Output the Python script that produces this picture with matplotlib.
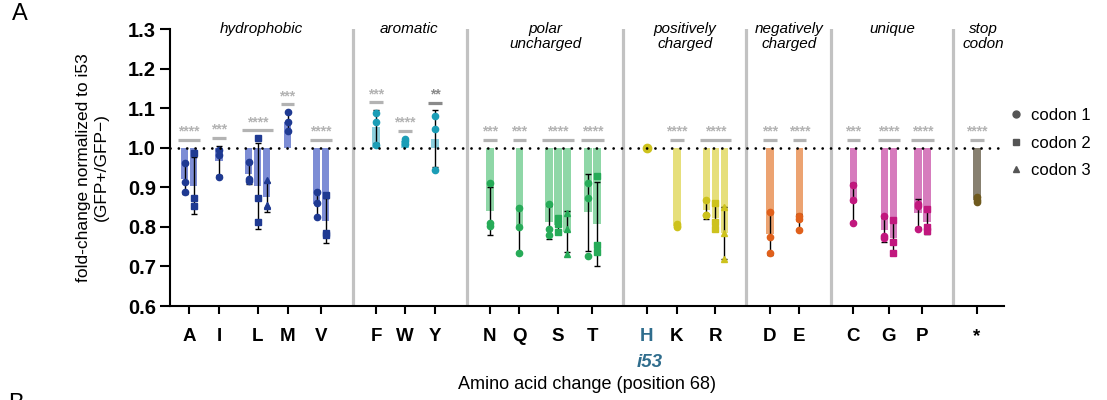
import numpy as np
import matplotlib
matplotlib.use("Agg")
import matplotlib.pyplot as plt
from matplotlib.lines import Line2D

plt.rcParams['font.family'] = ['Liberation Sans', 'DejaVu Sans']

# amino acids (position 68) and replicate values per codon
aa = ['A', 'I', 'L', 'M', 'V', 'F', 'W', 'Y', 'N', 'Q', 'S', 'T',
      'H', 'K', 'R', 'D', 'E', 'C', 'G', 'P', '*']
aa_class = ['hyd'] * 5 + ['aro'] * 3 + ['pol'] * 4 + ['pos'] * 3 + ['neg'] * 2 + ['uni'] * 3 + ['stop']

codon1 = [
    [0.961, 0.913, 0.887], [0.995, 0.982, 0.926], [0.964, 0.922, 0.915],
    [1.090, 1.064, 1.041], [0.888, 0.860, 0.824],
    [1.088, 1.064, 1.008], [1.022, 1.016, 1.010], [1.079, 1.047, 0.943],
    [0.911, 0.810, 0.801], [0.848, 0.799, 0.734], [0.859, 0.795, 0.780],
    [0.911, 0.873, 0.726],
    [1.000], [0.806, 0.803, 0.800], [0.869, 0.830, 0.830],
    [0.838, 0.775, 0.734], [0.827, 0.821, 0.792],
    [0.907, 0.867, 0.810], [0.827, 0.778, 0.772], [0.859, 0.852, 0.795],
    [0.875, 0.868, 0.862],
]
codon2 = [
    [0.987, 0.873, 0.852], None, [1.024, 0.873, 0.812], None, [0.881, 0.785, 0.780],
    None, None, None,
    None, None, [0.822, 0.806, 0.786], [0.928, 0.755, 0.736],
    None, None, [0.860, 0.812, 0.795],
    None, None,
    None, [0.818, 0.761, 0.734], [0.845, 0.800, 0.790],
    None,
]
codon3 = [
    None, None, [0.919, 0.852, 0.854], None, None,
    None, None, None,
    None, None, [0.835, 0.795, 0.732], None,
    None, None, [0.850, 0.785, 0.720],
    None, None,
    None, None, None,
    None,
]
stars = ['****', '***', '****', '***', '****', '***', '****', '**',
         '***', '***', '****', '****', '', '****', '****', '***', '****',
         '***', '****', '****', '****']

classes = ['hyd', 'aro', 'pol', 'pos', 'neg', 'uni', 'stop']
class_names = ['hydrophobic', 'aromatic', 'polar\nuncharged', 'positively\ncharged',
               'negatively\ncharged', 'unique', 'stop\ncodon']

# layout
xpos = [189, 219, 257.5, 287.5, 321, 376, 405, 435, 490, 519.5, 558, 592.5,
        647, 677, 715.5, 770, 799.5, 853.5, 889, 922.5, 977]
dividers = [352.5, 466.5, 623.5, 746.5, 831, 953]
class_x = [261, 409, 545, 685, 789, 892, 983]
bar_col = {'hyd': '#7d8dd5', 'aro': '#8ccfdd', 'pol': '#8fd7a7', 'pos': '#e6df7b',
           'neg': '#eca371', 'uni': '#d67cbd', 'stop': '#878070'}
pt_col = {'hyd': '#1f3a92', 'aro': '#1b9db6', 'pol': '#27ab58', 'pos': '#cdc21d',
          'neg': '#e0601b', 'uni': '#c1187e', 'stop': '#6f5a1e'}
markers = ['o', 's', '^']

fig = plt.figure(figsize=(11.07, 4.0), dpi=100)
ax = fig.add_axes([170 / 1107, 94 / 400, 834 / 1107, 277 / 400])
ax.set_xlim(170, 1004)
ax.set_ylim(0.6, 1.3)

step = 9.0
width = 7.3
for i, a in enumerate(aa):
    sets = [c[i] for c in (codon1, codon2, codon3)]
    present = [(k, s) for k, s in enumerate(sets) if s is not None]
    n = len(present)
    offs = (np.arange(n) - (n - 1) / 2) * step
    cls = aa_class[i]
    top = 1.0
    for (k, s), o in zip(present, offs):
        x = xpos[i] + o
        vals = np.array(s)
        if a == 'H':
            ax.plot([x], vals, marker='o', ms=6, color=pt_col[cls], ls='none', zorder=5)
            continue
        m = vals.mean()
        sd = vals.std(ddof=1)
        ax.bar(x, m - 1.0, bottom=1.0, width=width, color=bar_col[cls], zorder=2)
        ax.errorbar(x, m, yerr=sd, color='black', lw=1, capsize=2, capthick=1, zorder=4)
        ax.plot(np.full(len(vals), x), vals, marker=markers[k], ms=4.5, ls='none',
                color=pt_col[cls], zorder=5)
        top = max(top, m + sd, vals.max())
    if stars[i]:
        y = top + 0.02
        x0 = xpos[i] + offs[0] - width / 2 - 3
        x1 = xpos[i] + offs[-1] + width / 2 + 3
        sc = '#8a8a8a' if stars[i] == '**' else '#b3b3b3'
        ax.plot([x0, x1], [y, y], color=sc, lw=2.3, solid_capstyle='butt', zorder=3)
        ax.text(xpos[i], y + 0.003, stars[i], ha='center', va='bottom', fontsize=10,
                fontweight='bold', color=sc)

ax.axhline(1.0, color='black', lw=2, ls=(0, (0.01, 3.0)), dash_capstyle='round', zorder=6)

for d in dividers:
    ax.axvline(d, color='#c2c2c2', lw=2.3, zorder=1)

for cx, name in zip(class_x, class_names):
    ax.text(cx, 1.318, name, ha='center', va='top', fontsize=11, style='italic',
            linespacing=1.1)

ax.spines['top'].set_visible(False)
ax.spines['right'].set_visible(False)
ax.spines['left'].set_linewidth(1.5)
ax.spines['bottom'].set_linewidth(1.5)
ax.set_yticks(np.arange(0.6, 1.31, 0.1))
ax.set_yticklabels(['%.1f' % v for v in np.arange(0.6, 1.31, 0.1)], fontsize=14.5,
                   fontweight='bold')
ax.tick_params(axis='y', length=7, width=1.5, pad=3)
ax.set_xticks(xpos)
ax.set_xticklabels(aa, fontsize=13.5, fontweight='bold')
ax.tick_params(axis='x', length=6, width=1.5, pad=10)
for lbl in ax.get_xticklabels():
    if lbl.get_text() == 'H':
        lbl.set_color('#2f6d8d')

ax.text(xpos[aa.index('H')] + 3, 0.457, 'i53', ha='center', va='center', fontsize=13.5,
        fontweight='bold', style='italic', color='#2f6d8d')
ax.set_xlabel('Amino acid change (position 68)', fontsize=13, labelpad=22)
ax.set_ylabel('fold-change normalized to i53\n(GFP+/GFP\u2212)', fontsize=12.5, labelpad=14)

handles = [Line2D([], [], marker=m, color='#555555', ls='none', ms=5) for m in markers]
fig.legend(handles, ['codon 1', 'codon 2', 'codon 3'], loc='upper left',
           bbox_to_anchor=(1008 / 1107, 1 - 108 / 400), frameon=False, fontsize=12,
           handletextpad=0.4, labelspacing=0.75, handlelength=1.0,
           borderpad=0, borderaxespad=0)

fig.text(12 / 1107, 1 - 14 / 400, 'A', fontsize=17, va='center')
fig.text(8 / 1107, 7 / 400, 'B', fontsize=17, va='top')

fig.savefig('out.png', dpi=100)
